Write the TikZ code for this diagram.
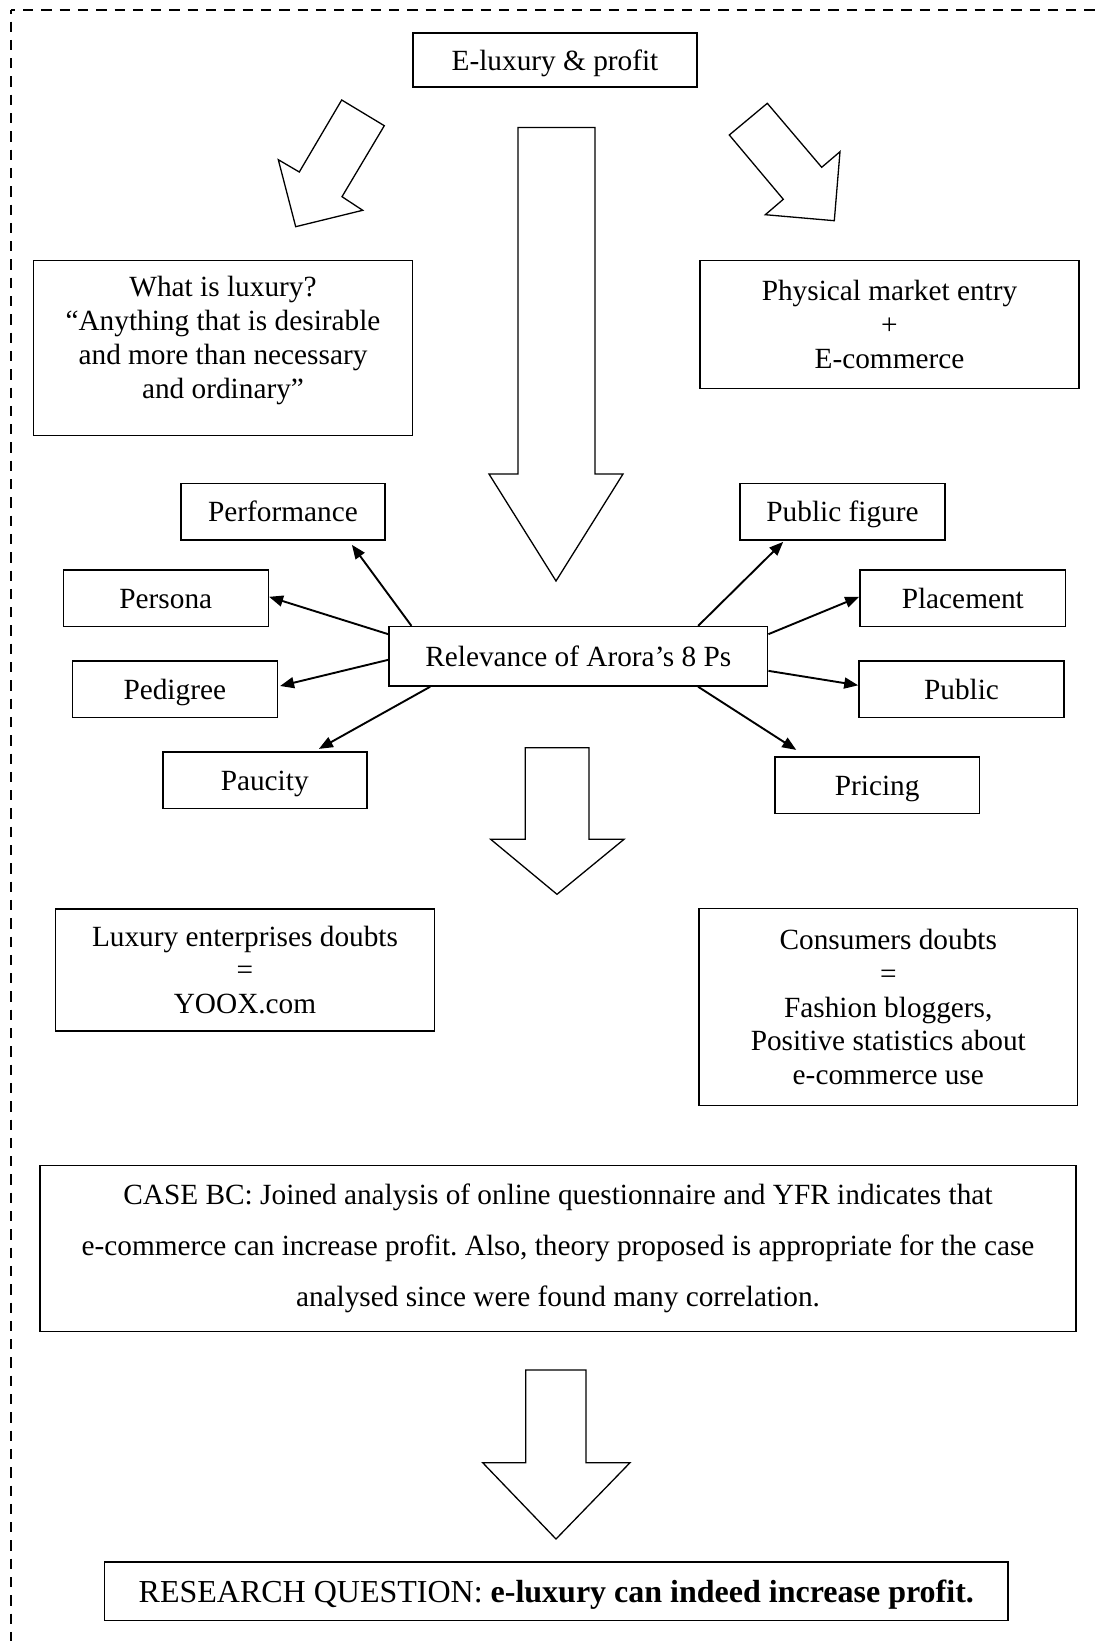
\documentclass[tikz,border=0pt]{standalone}
\usepackage{fontspec}
\setmainfont{Liberation Serif}
\usetikzlibrary{arrows.meta,calc}
\frenchspacing

\begin{document}
\begin{tikzpicture}[x=1pt,y=-1pt,
  box/.style={draw, line width=1.6pt, align=center, inner sep=0pt,
              font=\fontsize{29.3}{33.8}\selectfont},
  oneline/.style={box, text height=20.5pt, text depth=0pt},
  blockarrow/.style={draw, line width=1.3pt, line join=miter},
  link/.style={line width=1.9pt, -{Triangle[length=14pt,width=11pt]}},
  frame/.style={line width=2pt, dash pattern=on 10.3pt off 8pt, dash phase=6.3pt}]
\useasboundingbox (0,0) rectangle (1095,1641);

% dashed frame (top and left sides)
\coordinate (corner) at (11,9.5);
\draw[frame] (corner) -- (1110,9.5);
\draw[frame] (corner) -- (11,1660);

% title
\node[oneline, minimum width=284, minimum height=54] (title) at (555,60) {E-luxury \& profit};

% block arrows from the title
\draw[blockarrow] (341.7,100) -- (384.3,125.7) -- (342,196.7) -- (362.7,210.3)
  -- (295.7,226.7) -- (278.3,159.7) -- (299.3,172) -- cycle;
\draw[blockarrow] (767.3,103.3) -- (821.7,167.3) -- (840,151.7) -- (834.3,220.7)
  -- (765.3,214.7) -- (783.3,199.3) -- (729.3,135) -- cycle;
\draw[blockarrow] (518,127.5) -- (595,127.5) -- (595,474) -- (623,474) -- (556,581)
  -- (489,474) -- (518,474) -- cycle;

% first-level boxes
\node[box, minimum width=379, minimum height=175, text depth=21pt] (what) at (223,348)
  {What is luxury?\\“Anything that is desirable\\and more than necessary\\and ordinary”};
\node[box, minimum width=379, minimum height=128] (market) at (889.5,324.5)
  {Physical market entry\\+\\E-commerce};

% the 8 Ps
\node[oneline, minimum width=378.7, minimum height=59.3] (rel) at (578.3,656.3) {Relevance of Arora’s 8 Ps};
\node[oneline, minimum width=204, minimum height=56.7] (perf) at (283,511.7) {Performance};
\node[oneline, minimum width=205, minimum height=56.7] (pers) at (165.8,598.3) {Persona};
\node[oneline, minimum width=205, minimum height=56.6] (ped) at (174.8,689) {Pedigree};
\node[oneline, minimum width=204, minimum height=56.6] (pauc) at (264.7,780) {Paucity};
\node[oneline, minimum width=205, minimum height=56.7] (pubfig) at (842.5,511.7) {Public figure};
\node[oneline, minimum width=205.7, minimum height=56.7] (place) at (962.8,598.3) {Placement};
\node[oneline, minimum width=205, minimum height=56.7] (public) at (961.5,689.3) {Public};
\node[oneline, minimum width=204.3, minimum height=56.6] (price) at (877.2,785) {Pricing};

\draw[link] ($(rel.north west)+(23.3,0)$) -- ($(perf.south west)+(171.7,4)$);
\draw[link] ($(rel.north west)+(0,8.3)$) -- ($(pers.east)+(0,-1.5)$);
\draw[link] ($(rel.north west)+(0,34)$) -- ($(ped.east)+(2,-3)$);
\draw[link] ($(rel.south west)+(42,0)$) -- ($(pauc.north west)+(157,-2)$);
\draw[link] ($(rel.north west)+(310,0)$) -- ($(pubfig.south west)+(44,1)$);
\draw[link] ($(rel.north east)+(0,8.3)$) -- ($(place.west)+(0,-1.5)$);
\draw[link] ($(rel.north east)+(0,45)$) -- ($(public.west)+(0,-4)$);
\draw[link] ($(rel.south west)+(310,0)$) -- ($(price.north west)+(22,-6)$);

% second block arrow
\draw[blockarrow] (525.3,747.7) -- (589,747.7) -- (589,839.3) -- (624,839.3) -- (557,894.3)
  -- (490.7,839.3) -- (525.3,839.3) -- cycle;

% doubts
\node[box, minimum width=379, minimum height=122.4] (entdoubt) at (245,970)
  {Luxury enterprises doubts\\=\\YOOX.com};
\node[box, minimum width=378.5, minimum height=197] (condoubt) at (888.3,1007)
  {Consumers doubts\\=\\Fashion bloggers,\\Positive statistics about\\e-commerce use};

% case study
\node[box, minimum width=1035.5, minimum height=166, font=\fontsize{29.3}{50.8}\selectfont] (case) at (558,1248.3)
  {CASE BC: Joined analysis of online questionnaire and YFR indicates that\\
   e-commerce can increase profit. Also, theory proposed is appropriate for the case\\
   analysed since were found many correlation.};

% final block arrow
\draw[blockarrow] (525.7,1370) -- (586,1370) -- (586,1462.7) -- (630,1462.7) -- (556,1539)
  -- (482.7,1462.7) -- (525.7,1462.7) -- cycle;

% research question
\node[oneline, minimum width=903.3, minimum height=58.5, font=\fontsize{32}{36}\selectfont, text height=22.4pt] (rq) at (556.3,1591.3)
  {RESEARCH QUESTION: \textbf{e-luxury can indeed increase profit.}};
\end{tikzpicture}
\end{document}
